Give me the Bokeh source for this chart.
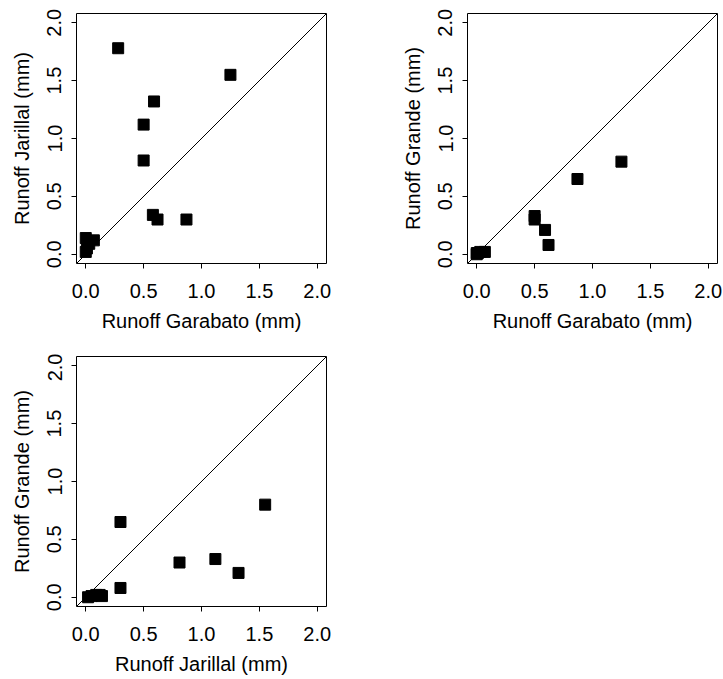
from bokeh.plotting import figure
from bokeh.models import Range1d, FixedTicker, PrintfTickFormatter, Slope
from bokeh.layouts import column, row
from bokeh.embed import file_html
from bokeh.resources import INLINE
import numpy as np

# Runoff per event (mm) at the three sites
garabato = [0.28, 1.25, 0.59, 0.50, 0.50, 0.58, 0.62, 0.87, 0.00, 0.07, 0.01, 0.00, 0.03]
jarillal = [1.78, 1.55, 1.32, 1.12, 0.81, 0.34, 0.30, 0.30, 0.14, 0.12, 0.05, 0.02, 0.09]
grande   = [np.nan, 0.80, 0.21, 0.33, 0.30, np.nan, 0.08, 0.65, 0.01, 0.02, 0.01, 0.00, 0.02]

ticks = [0.0, 0.5, 1.0, 1.5, 2.0]
FONT = "Liberation Sans"


def panel(x, y, xlab, ylab, width, height, bl, br, bt, bb):
    p = figure(width=width, height=height, output_backend="svg", toolbar_location=None,
               x_range=Range1d(-0.08, 2.08), y_range=Range1d(-0.08, 2.08),
               min_border_left=bl, min_border_right=br, min_border_top=bt, min_border_bottom=bb)
    p.xgrid.visible = False
    p.ygrid.visible = False
    p.outline_line_color = "black"
    p.outline_line_width = 1
    p.background_fill_color = "white"
    p.border_fill_color = "white"
    for ax in (p.xaxis[0], p.yaxis[0]):
        ax.ticker = FixedTicker(ticks=ticks)
        ax.formatter = PrintfTickFormatter(format="%.1f")
        ax.axis_line_color = None
        ax.major_tick_in = 0
        ax.major_tick_out = 5
        ax.major_tick_line_color = "black"
        ax.minor_tick_line_color = None
        ax.major_label_text_font = FONT
        ax.major_label_text_font_size = "20px"
        ax.major_label_text_color = "black"
        ax.axis_label_text_font = FONT
        ax.axis_label_text_font_size = "20px"
        ax.axis_label_text_font_style = "normal"
        ax.axis_label_text_color = "black"
    p.xaxis.axis_label = xlab
    p.yaxis.axis_label = ylab
    p.xaxis.major_label_standoff = 15
    p.xaxis.axis_label_standoff = 9
    p.yaxis.major_label_standoff = 10
    p.yaxis.axis_label_standoff = 12
    p.yaxis.major_label_orientation = "vertical"
    p.add_layout(Slope(gradient=1, y_intercept=0, line_color="black", line_width=1))
    p.scatter(x, y, marker="square", size=11, color="black")
    return p


p1 = panel(garabato, jarillal, "Runoff Garabato (mm)", "Runoff Jarillal (mm)", 360, 353, 76, 34, 13, 90)
p2 = panel(garabato, grande, "Runoff Garabato (mm)", "Runoff Grande (mm)", 363, 353, 107, 6, 13, 90)
p3 = panel(jarillal, grande, "Runoff Jarillal (mm)", "Runoff Grande (mm)", 360, 326, 76, 34, 3, 73)

layout = column(row(p1, p2), p3)
open("out.html", "w").write(file_html(layout, INLINE))
